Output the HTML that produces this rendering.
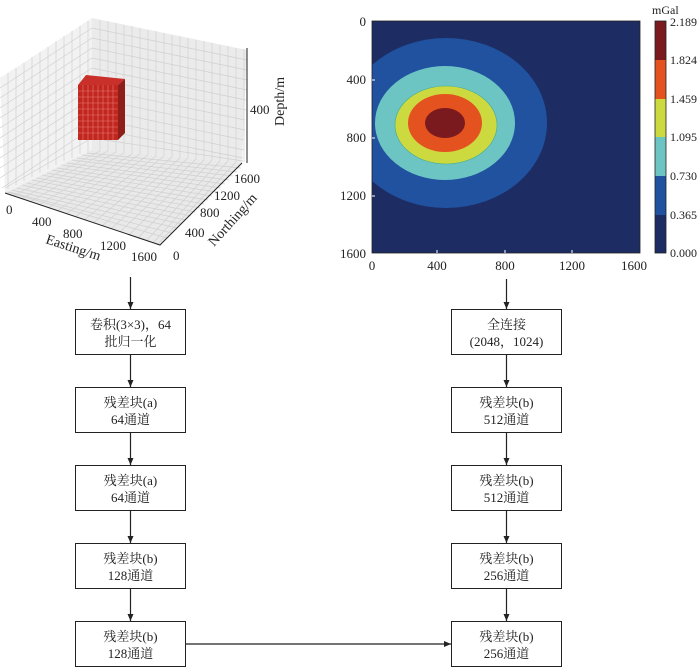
<!DOCTYPE html>
<html><head><meta charset="utf-8"><style>
html,body{margin:0;padding:0;background:#fff;}
svg{display:block;}
text{font-family:"Liberation Serif","Noto Serif CJK SC",serif;fill:#222;}
</style></head><body>
<svg width="700" height="667" viewBox="0 0 700 667" xmlns="http://www.w3.org/2000/svg">
<defs>
<marker id="ah" markerWidth="8" markerHeight="8" refX="7" refY="4" orient="auto" markerUnits="userSpaceOnUse">
<path d="M0,1 L7,4 L0,7 z" fill="#222"/></marker>
<clipPath id="ax"><rect x="372" y="21" width="268" height="232"/></clipPath>
<pattern id="gv" width="6" height="6" patternUnits="userSpaceOnUse"><path d="M0,0 V6 M0,0 H6" stroke="#d4d4d4" stroke-width="0.8" fill="none"/></pattern>
</defs>

<!-- 3D plot -->
<polygon points="0,78 92,18 92,150 5,193" fill="#f2f2f2"/>
<polygon points="92,18 247,50 242,163 92,150" fill="#ebebeb"/>
<polygon points="92,150 5,193 160,245 242,163" fill="#e9e9e9"/>
<g stroke="#d0d0d0" stroke-width="0.7">
<!-- left wall verticals -->
<path d="M8,73V189 M16,68V185 M24,63V181 M32,57V177 M40,52V173 M48,47V169 M56,41V165 M64,36V161 M72,31V158 M80,26V154 M88,21V152"/>
<path d="M0,88L92,28 M0,98L92,38 M0,108L92,48 M0,118L92,58 M0,128L92,68 M0,138L92,78 M0,148L92,88 M0,158L92,98 M0,168L92,108 M0,178L92,118 M2,188L92,128 M92,138 L5,188"/>
<!-- right wall -->
<path d="M100,20V151 M108,21V151 M116,23V152 M124,25V153 M132,26V154 M140,28V154 M148,30V155 M156,31V156 M164,33V156 M172,35V157 M180,36V158 M188,38V158 M196,40V159 M204,41V160 M212,43V160 M220,45V161 M228,46V161 M236,48V162 M244,49V162"/>
<path d="M92,28L247,60 M92,38L247,70 M92,48L247,80 M92,58L247,90 M92,68L246,100 M92,78L246,110 M92,88L245,120 M92,98L245,130 M92,108L244,140 M92,118L244,150 M92,128L243,158 M92,138L243,161"/>
<!-- floor -->
<path d="M100,151L13,196 M108,151L21,199 M116,152L30,202 M124,153L39,205 M132,154L48,208 M140,154L57,211 M148,155L66,214 M156,156L75,217 M164,156L84,220 M172,157L93,223 M180,158L102,226 M188,158L111,229 M196,159L120,232 M204,160L129,235 M212,160L138,238 M220,161L147,240 M228,161L153,243 M236,162L157,245"/>
<path d="M87,153L241,168 M82,155L237,172 M77,158L233,176 M72,160L229,180 M67,163L225,184 M62,165L221,188 M57,168L217,192 M52,170L212,196 M47,173L208,200 M42,175L204,204 M37,178L200,208 M32,180L195,212 M27,183L191,216 M22,185L186,220 M17,188L182,224 M12,190L177,228 M9,192L172,233 M7,192L167,238"/>
</g>
<!-- red box -->
<polygon points="78,85 86,75 125,79 118,85" fill="#c9302a"/>
<polygon points="118,85 125,79 125,133 118,140" fill="#8f1d1a"/>
<rect x="78" y="85" width="40" height="55" fill="#c0271f"/>
<g stroke="#e77" stroke-width="0.6">
<path d="M83,85V140 M88,85V140 M93,85V140 M98,85V140 M103,85V140 M108,85V140 M113,85V140"/>
<path d="M78,91H118 M78,97H118 M78,103H118 M78,109H118 M78,115H118 M78,121H118 M78,127H118 M78,133H118"/>
</g>
<!-- axes -->
<g stroke="#222" stroke-width="1" fill="none">
<path d="M5,193 L160,245 L242,163"/>
<path d="M247,48 L247,163"/>
</g>
<g font-size="13">
<text x="6" y="214">0</text>
<text x="32" y="226">400</text>
<text x="63" y="238">800</text>
<text x="100" y="250">1200</text>
<text x="131" y="261">1600</text>
<text x="173" y="260">0</text>
<text x="185" y="237">400</text>
<text x="200" y="217">800</text>
<text x="214" y="200">1200</text>
<text x="234" y="183">1600</text>
<text x="250" y="114">400</text>
<text x="45" y="243" transform="rotate(18 45 243)" font-size="14">Easting/m</text>
<text x="214" y="247" transform="rotate(-48 214 247)" font-size="14">Northing/m</text>
<text x="284" y="126" transform="rotate(-90 284 126)" font-size="14">Depth/m</text>
</g>

<!-- contour plot -->
<rect x="372" y="21" width="268" height="232" fill="#1d2d63"/>
<g clip-path="url(#ax)">
<ellipse cx="446" cy="123" rx="101" ry="85" fill="#2052a0"/>
<ellipse cx="445" cy="123" rx="70" ry="57" fill="#6cc5c3"/>
<ellipse cx="446" cy="125" rx="51" ry="39" fill="#ccd93f" stroke="#4a9" stroke-width="0.6"/>
<ellipse cx="445" cy="123" rx="37" ry="29" fill="#e3521f"/>
<ellipse cx="445" cy="123" rx="20" ry="15" fill="#7a1a1f"/>
</g>
<rect x="372" y="21" width="268" height="232" fill="none" stroke="#222" stroke-width="0.8"/>
<g stroke="#fff" stroke-width="1">
<path d="M372,80h3 M372,138h3 M372,196h3 M437,253v-3 M505,253v-3 M572,253v-3"/>
</g>
<g font-size="13" text-anchor="end">
<text x="366" y="26">0</text>
<text x="366" y="84">400</text>
<text x="366" y="142">800</text>
<text x="366" y="200">1200</text>
<text x="366" y="258">1600</text>
</g>
<g font-size="13" text-anchor="middle">
<text x="372" y="270">0</text>
<text x="437" y="270">400</text>
<text x="505" y="270">800</text>
<text x="572" y="270">1200</text>
<text x="634" y="270">1600</text>
</g>
<!-- colorbar -->
<rect x="655" y="21" width="11" height="39" fill="#7a1a1f"/>
<rect x="655" y="60" width="11" height="39" fill="#e3521f"/>
<rect x="655" y="99" width="11" height="38" fill="#ccd93f"/>
<rect x="655" y="137" width="11" height="39" fill="#6cc5c3"/>
<rect x="655" y="176" width="11" height="39" fill="#2052a0"/>
<rect x="655" y="215" width="11" height="38" fill="#1d2d63"/>
<rect x="655" y="21" width="11" height="232" fill="none" stroke="#222" stroke-width="0.8"/>
<g font-size="12">
<text x="652" y="14" font-family="Liberation Sans,sans-serif">mGal</text>
<text x="670" y="26">2.189</text>
<text x="670" y="64">1.824</text>
<text x="670" y="103">1.459</text>
<text x="670" y="141">1.095</text>
<text x="670" y="180">0.730</text>
<text x="670" y="219">0.365</text>
<text x="670" y="257">0.000</text>
</g>

<!-- flowchart -->
<g stroke="#222" stroke-width="1" fill="#fff">
<rect x="75.5" y="309.5" width="110" height="45"/>
<rect x="75.5" y="387.5" width="110" height="45"/>
<rect x="75.5" y="465.5" width="110" height="45"/>
<rect x="75.5" y="543.5" width="110" height="45"/>
<rect x="75.5" y="621.5" width="110" height="45"/>
<rect x="451.5" y="309.5" width="110" height="45"/>
<rect x="451.5" y="387.5" width="110" height="45"/>
<rect x="451.5" y="465.5" width="110" height="45"/>
<rect x="451.5" y="543.5" width="110" height="45"/>
<rect x="451.5" y="621.5" width="110" height="45"/>
</g>
<g stroke="#222" stroke-width="1.2" marker-end="url(#ah)">
<line x1="130.5" y1="277" x2="130.5" y2="309"/>
<line x1="130.5" y1="355" x2="130.5" y2="387"/>
<line x1="130.5" y1="433" x2="130.5" y2="465"/>
<line x1="130.5" y1="511" x2="130.5" y2="543"/>
<line x1="130.5" y1="589" x2="130.5" y2="621"/>
<line x1="506.5" y1="279" x2="506.5" y2="309"/>
<line x1="506.5" y1="355" x2="506.5" y2="387"/>
<line x1="506.5" y1="433" x2="506.5" y2="465"/>
<line x1="506.5" y1="511" x2="506.5" y2="543"/>
<line x1="506.5" y1="589" x2="506.5" y2="621"/>
<line x1="186" y1="644" x2="451" y2="644"/>
</g>
<g font-size="13" text-anchor="middle">
<text x="130.5" y="329">卷积(3×3)，64</text><text x="130.5" y="346">批归一化</text>
<text x="130.5" y="407">残差块(a)</text><text x="130.5" y="424">64通道</text>
<text x="130.5" y="485">残差块(a)</text><text x="130.5" y="502">64通道</text>
<text x="130.5" y="563">残差块(b)</text><text x="130.5" y="580">128通道</text>
<text x="130.5" y="641">残差块(b)</text><text x="130.5" y="658">128通道</text>
<text x="506.5" y="329">全连接</text><text x="506.5" y="346">(2048，1024)</text>
<text x="506.5" y="407">残差块(b)</text><text x="506.5" y="424">512通道</text>
<text x="506.5" y="485">残差块(b)</text><text x="506.5" y="502">512通道</text>
<text x="506.5" y="563">残差块(b)</text><text x="506.5" y="580">256通道</text>
<text x="506.5" y="641">残差块(b)</text><text x="506.5" y="658">256通道</text>
</g>
</svg>
</body></html>
